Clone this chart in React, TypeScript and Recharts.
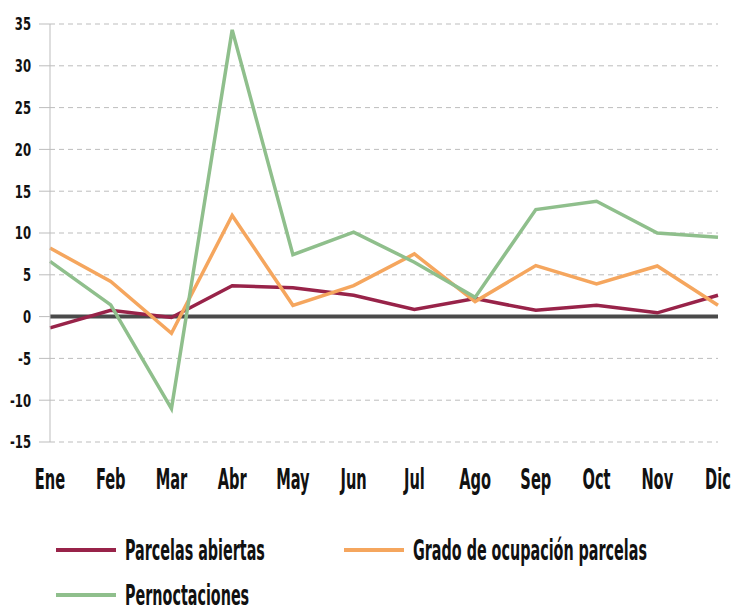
import React from 'react';
import { LineChart, Line, XAxis, YAxis, CartesianGrid, ReferenceLine } from 'recharts';

// ─── Data ───────────────────────────────────────────────────────────────────

const months = ['Ene', 'Feb', 'Mar', 'Abr', 'May', 'Jun', 'Jul', 'Ago', 'Sep', 'Oct', 'Nov', 'Dic'];

const parcelasAbiertas = [-1.35, 0.75, -0.1, 3.7, 3.45, 2.55, 0.85, 2.15, 0.75, 1.35, 0.45, 2.55];
const gradoOcupacion = [8.2, 4.2, -2.0, 12.1, 1.35, 3.7, 7.5, 1.8, 6.1, 3.9, 6.05, 1.35];
const pernoctaciones = [6.6, 1.4, -11.0, 34.3, 7.4, 10.1, 6.5, 2.3, 12.8, 13.8, 10.0, 9.5];

const yTicks = [-15, -10, -5, 0, 5, 10, 15, 20, 25, 30, 35];

const series = [
  { key: 'parcelas', label: 'Parcelas abiertas', color: '#982349' },
  { key: 'grado', label: 'Grado de ocupación parcelas', color: '#F5A65E' },
  { key: 'pernoct', label: 'Pernoctaciones', color: '#8FBF8C' },
];

const data = months.map((m, i) => ({
  month: m,
  parcelas: parcelasAbiertas[i],
  grado: gradoOcupacion[i],
  pernoct: pernoctaciones[i],
}));

const FONT = '"DejaVu Sans Condensed", "Liberation Sans", sans-serif';

// ─── Ticks (condensed look) ─────────────────────────────────────────────────

function MonthTick({ x, y, payload }: any) {
  return (
    <g transform={`translate(${x},${y + 47})`}>
      <text
        textAnchor="middle"
        transform="scale(0.56,1)"
        fontFamily={FONT}
        fontWeight="bold"
        fontSize={29}
        fill="#111"
      >
        {payload.value}
      </text>
    </g>
  );
}

function ValueTick({ x, y, payload }: any) {
  return (
    <g transform={`translate(${x},${y})`}>
      <text
        textAnchor="end"
        dy="0.36em"
        transform="scale(0.72,1)"
        fontFamily={FONT}
        fontWeight="bold"
        fontSize={18}
        fill="#111"
      >
        {payload.value}
      </text>
    </g>
  );
}

// ─── Legend ─────────────────────────────────────────────────────────────────

const legendPos = [
  { x: 56, y: 550 },
  { x: 344, y: 550 },
  { x: 56, y: 595 },
];

function ChartLegend() {
  return (
    <svg width={733} height={612} style={{ position: 'absolute', left: 0, top: 0, pointerEvents: 'none' }}>
      {series.map((s, i) => {
        const p = legendPos[i];
        return (
          <g key={s.key}>
            <line x1={p.x} x2={p.x + 60} y1={p.y} y2={p.y} stroke={s.color} strokeWidth={4} />
            <g transform={`translate(${p.x + 69},${p.y + 10})`}>
              <text transform="scale(0.55,1)" fontFamily={FONT} fontWeight="bold" fontSize={29} fill="#111">
                {s.label}
              </text>
            </g>
          </g>
        );
      })}
    </svg>
  );
}

// ─── Main ───────────────────────────────────────────────────────────────────

export default function App() {
  return (
    <div style={{ position: 'absolute', left: 0, top: 0, width: 733, height: 612, background: '#fff' }}>
      <LineChart width={733} height={612} data={data} margin={{ top: 24, right: 15, bottom: 140, left: 0 }}>
        <CartesianGrid vertical={false} strokeDasharray="5 4" stroke="#bdbdbd" />
        <XAxis
          dataKey="month"
          axisLine={false}
          tickLine={false}
          tickSize={0}
          tickMargin={0}
          height={30}
          interval={0}
          tick={<MonthTick />}
        />
        <YAxis
          domain={[-15, 35]}
          ticks={yTicks}
          width={50}
          interval={0}
          axisLine={{ stroke: '#bdbdbd' }}
          tickLine={{ stroke: '#bdbdbd' }}
          tickSize={11}
          tickMargin={8}
          tick={<ValueTick />}
        />
        <ReferenceLine y={0} stroke="#4a4a4a" strokeWidth={4} />
        {series.map((s) => (
          <Line
            key={s.key}
            type="linear"
            dataKey={s.key}
            stroke={s.color}
            strokeWidth={3.5}
            dot={false}
            activeDot={false}
            isAnimationActive={false}
          />
        ))}
      </LineChart>
      <ChartLegend />
    </div>
  );
}
